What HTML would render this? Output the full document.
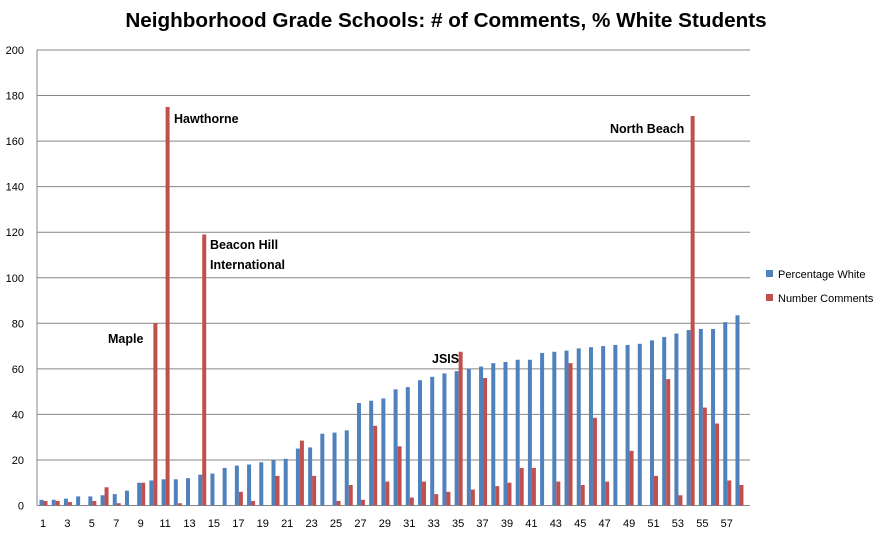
<!DOCTYPE html>
<html><head><meta charset="utf-8"><style>
body{margin:0;background:#fff;font-family:"Liberation Sans",sans-serif}
svg text{font-family:"Liberation Sans",sans-serif}
</style></head><body>
<svg id="c" width="891" height="536">
<text x="446" y="27" text-anchor="middle" font-size="20.7" font-weight="bold">Neighborhood Grade Schools: # of Comments, % White Students</text>
<g id="grid"></g><g id="bars"></g><g id="xl"></g>
<g>
<rect x="766" y="270" width="7" height="7" fill="#4f81bd"/>
<text x="778" y="278" font-size="11">Percentage White</text>
<rect x="766" y="294" width="7" height="7" fill="#c0504d"/>
<text x="778" y="302" font-size="11">Number Comments</text>
</g>
<g font-size="12.5" font-weight="bold">
<text x="108" y="343">Maple</text>
<text x="174" y="123">Hawthorne</text>
<text x="210" y="249">Beacon Hill</text>
<text x="210" y="269">International</text>
<text x="432" y="363">JSIS</text>
<text x="610" y="133">North Beach</text>
</g>
</svg>
<script>
const white=[2.5,2.5,3,4,4,4.5,5,6.5,10,11,11.5,11.5,12,13.5,14,16.5,17.5,18,19,20,20.5,25,25.5,31.5,32,33,45,46,47,51,52,55,56.5,58,59,60,61,62.5,63,64,64,67,67.5,68,69,69.5,70,70.5,70.5,71,72.5,74,75.5,77,77.5,77.5,80.5,83.5];
const comments=[2,2,1.5,0,2,8,1,0,10,80,175,1,0,119,0,0,6,2,0,13,0,28.5,13,0,2,9,2.5,35,10.5,26,3.5,10.5,5,6,67.5,7,56,8.5,10,16.5,16.5,0,10.5,62.5,9,38.5,10.5,0,24,0,13,55.5,4.5,171,43,36,11,9];
const yTicks=[0,20,40,60,80,100,120,140,160,180,200];
const X0=37,X1=750,Y0=505.5,Y1=50;
const n=white.length,cw=12.21;
const y=v=>Y0-(v/200)*(Y0-Y1);
const xc=i=>43+cw*i;
const NS="http://www.w3.org/2000/svg";
function mk(t,a,p){const e=document.createElementNS(NS,t);for(const k in a)e.setAttribute(k,a[k]);p.appendChild(e);return e;}
const g=document.getElementById('grid');
yTicks.forEach(v=>{
 const l=mk('line',{x1:X0,x2:X1,y1:y(v),y2:y(v),stroke:'#868686','stroke-width':1},g);
 
 
 const t=mk('text',{x:24,y:y(v)+4,'text-anchor':'end','font-size':11},g);t.textContent=v;
 
 
});
const ax=mk('line',{x1:X0,x2:X0,y1:Y1,y2:Y0,stroke:'#868686'},g);


const b=document.getElementById('bars'),xl=document.getElementById('xl');
for(let i=0;i<n;i++){
 const c=xc(i);
 const r1=mk('rect',{x:c-3.5,y:y(white[i]),width:4,height:Y0-y(white[i]),fill:'#4f81bd'},b);
 
 
 const r2=mk('rect',{x:c+0.5,y:y(comments[i]),width:4,height:Y0-y(comments[i]),fill:'#c0504d'},b);
 
 
 if(i%2==0){const t=mk('text',{x:c,y:527,'text-anchor':'middle','font-size':11},xl);t.textContent=i+1;
 
 }
}
</script>
</body></html>
